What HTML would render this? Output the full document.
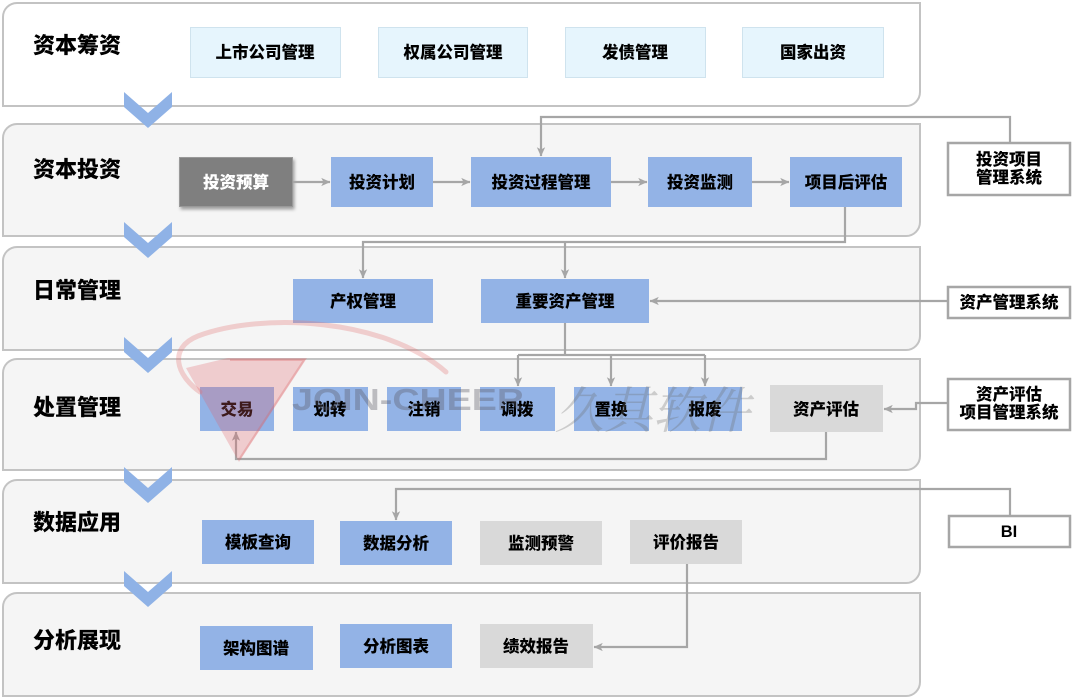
<!DOCTYPE html>
<html><head><meta charset="utf-8"><style>
html,body{margin:0;padding:0;background:#fff;}
svg{display:block;}
text{font-family:"Liberation Sans","Noto Sans CJK SC",sans-serif;font-weight:900;}
</style></head><body>
<svg width="1080" height="699" viewBox="0 0 1080 699" xmlns="http://www.w3.org/2000/svg">
<defs>
<marker id="ah" viewBox="0 0 10 10" refX="9.5" refY="5" markerWidth="4.2" markerHeight="4.2" orient="auto" markerUnits="strokeWidth">
<path d="M0,0.5 L10,5 L0,9.5 L2.5,5 Z" fill="#a6a6a6"/>
</marker>
<filter id="sh" x="-10%" y="-10%" width="130%" height="140%">
<feDropShadow dx="1.5" dy="2.5" stdDeviation="1.5" flood-color="#000" flood-opacity="0.35"/>
</filter>
</defs>

<!-- panels -->
<g stroke="#c3c3c3" stroke-width="2">
<path d="M17,3 H920 V92 A14,14 0 0 1 906,106 H3 V17 A14,14 0 0 1 17,3 Z" fill="#ffffff"/>
<path d="M17,124 H920 V222 A14,14 0 0 1 906,236 H3 V138 A14,14 0 0 1 17,124 Z" fill="#f5f5f5"/>
<path d="M17,247 H920 V336 A14,14 0 0 1 906,350 H3 V261 A14,14 0 0 1 17,247 Z" fill="#f5f5f5"/>
<path d="M17,359 H920 V456 A14,14 0 0 1 906,470 H3 V373 A14,14 0 0 1 17,359 Z" fill="#f5f5f5"/>
<path d="M17,480 H920 V569 A14,14 0 0 1 906,583 H3 V494 A14,14 0 0 1 17,480 Z" fill="#f5f5f5"/>
<path d="M17,593 H920 V682 A14,14 0 0 1 906,696 H3 V607 A14,14 0 0 1 17,593 Z" fill="#f5f5f5"/>
</g>

<!-- chevrons -->
<g fill="#8fb2e6">
<polygon points="124,92 148,113 172,92 172,107 148,128 124,107"/>
<polygon points="124,222 148,243 172,222 172,237 148,258 124,237"/>
<polygon points="124,337 148,358 172,337 172,352 148,373 124,352"/>
<polygon points="124,467 148,488 172,467 172,482 148,503 124,482"/>
<polygon points="124,571 148,592 172,571 172,586 148,607 124,586"/>
</g>

<!-- row labels -->
<g font-size="22" fill="#000">
<text x="33" y="53">资本筹资</text>
<text x="33" y="177">资本投资</text>
<text x="33" y="298">日常管理</text>
<text x="33" y="415">处置管理</text>
<text x="33" y="530">数据应用</text>
<text x="33" y="648">分析展现</text>
</g>

<!-- row 1 boxes -->
<g fill="#e6f5fd" stroke="#cfe3ee" stroke-width="1">
<rect x="190.5" y="27.5" width="150" height="50"/>
<rect x="378.5" y="27.5" width="149" height="50"/>
<rect x="565.5" y="27.5" width="140" height="50"/>
<rect x="742.5" y="27.5" width="141" height="50"/>
</g>

<!-- blue boxes -->
<g fill="#93b3e6">
<rect x="331" y="157" width="102" height="50"/>
<rect x="471" y="157" width="140" height="50"/>
<rect x="648" y="157" width="104" height="50"/>
<rect x="790" y="157" width="112" height="50"/>
<rect x="293" y="279" width="140" height="44"/>
<rect x="481" y="279" width="168" height="44"/>
<rect x="200" y="387" width="74" height="44"/>
<rect x="293" y="387" width="75" height="44"/>
<rect x="387" y="387" width="74" height="44"/>
<rect x="480" y="387" width="75" height="44"/>
<rect x="574" y="387" width="75" height="44"/>
<rect x="668" y="387" width="74" height="44"/>
<rect x="202" y="520" width="112" height="44"/>
<rect x="340" y="521" width="112" height="44"/>
<rect x="200" y="626" width="113" height="44"/>
<rect x="340" y="624" width="112" height="44"/>
</g>
<!-- gray boxes -->
<g fill="#d9d9d9">
<rect x="770" y="385" width="113" height="47"/>
<rect x="480" y="521" width="122" height="44"/>
<rect x="630" y="520" width="112" height="44"/>
<rect x="480" y="624" width="113" height="44"/>
</g>
<rect x="179.5" y="157.5" width="113" height="49" fill="#7f7f7f" stroke="#999" stroke-width="1" filter="url(#sh)"/>

<!-- external boxes -->
<g fill="#fff" stroke="#a6a6a6" stroke-width="2.5">
<rect x="948" y="143" width="122" height="52"/>
<rect x="948" y="287" width="122" height="31"/>
<rect x="948" y="379" width="122" height="51"/>
<rect x="949" y="516" width="121" height="31"/>
</g>

<!-- connectors -->
<g fill="none" stroke="#a6a6a6" stroke-width="2.2">
<path d="M293,182 H330" marker-end="url(#ah)"/>
<path d="M433,182 H470" marker-end="url(#ah)"/>
<path d="M611,182 H647" marker-end="url(#ah)"/>
<path d="M752,182 H789" marker-end="url(#ah)"/>
<path d="M1010,143 V117 H541 V156" marker-end="url(#ah)"/>
<path d="M845,207 V242 H363 V278" marker-end="url(#ah)"/>
<path d="M565,242 V278" marker-end="url(#ah)"/>
<path d="M948,301 H650" marker-end="url(#ah)"/>
<path d="M565,323 V355"/>
<path d="M518,355 H705"/>
<path d="M518,355 V386" marker-end="url(#ah)"/>
<path d="M611,355 V386" marker-end="url(#ah)"/>
<path d="M705,355 V386" marker-end="url(#ah)"/>
<path d="M948,403 H916 V409 H884" marker-end="url(#ah)"/>
<path d="M826,432 V459 H236 V432" marker-end="url(#ah)"/>
<path d="M1010,516 V489 H396 V520" marker-end="url(#ah)"/>
<path d="M687,564 V647 H594" marker-end="url(#ah)"/>
</g>

<!-- box text -->
<g font-size="16.5" fill="#000" text-anchor="middle">
<text x="265" y="58">上市公司管理</text>
<text x="453" y="58">权属公司管理</text>
<text x="635" y="58">发债管理</text>
<text x="813" y="58">国家出资</text>
<text x="236" y="188" fill="#fff">投资预算</text>
<text x="382" y="188">投资计划</text>
<text x="541" y="188">投资过程管理</text>
<text x="700" y="188">投资监测</text>
<text x="846" y="188">项目后评估</text>
<text x="363" y="307">产权管理</text>
<text x="565" y="307">重要资产管理</text>
<text x="237" y="415">交易</text>
<text x="330" y="415">划转</text>
<text x="424" y="415">注销</text>
<text x="517" y="415">调拨</text>
<text x="611" y="415">置换</text>
<text x="705" y="415">报废</text>
<text x="826" y="415">资产评估</text>
<text x="258" y="548">模板查询</text>
<text x="396" y="549">数据分析</text>
<text x="541" y="549">监测预警</text>
<text x="686" y="548">评价报告</text>
<text x="256" y="654">架构图谱</text>
<text x="396" y="652">分析图表</text>
<text x="536" y="652">绩效报告</text>
<text x="1009" y="165">投资项目</text>
<text x="1009" y="183">管理系统</text>
<text x="1009" y="308">资产管理系统</text>
<text x="1009" y="400">资产评估</text>
<text x="1009" y="418">项目管理系统</text>
<text x="1009" y="537">BI</text>
</g>

<!-- watermark -->
<g>
<path d="M200,392 C176,375 168,348 198,336 C262,312 385,318 446,372" fill="none" stroke="rgba(228,120,120,0.32)" stroke-width="5" stroke-linecap="round"/>
<polygon points="186,368 228,358 307,358 239,462" fill="rgba(225,95,105,0.27)"/>
<path d="M230,360 L304,360 L240,458" fill="none" stroke="rgba(220,100,100,0.3)" stroke-width="2"/>
<text x="292" y="410" font-size="31" fill="rgba(90,90,100,0.36)" textLength="232" lengthAdjust="spacingAndGlyphs" style="font-family:'Liberation Sans',sans-serif;font-weight:bold">JOIN-CHEER</text>
<text x="555" y="428" font-size="50" fill="rgba(110,110,110,0.3)" textLength="195" lengthAdjust="spacingAndGlyphs" style="font-family:'Noto Serif CJK SC',serif;font-weight:normal;font-style:italic">久其软件</text>
</g>
</svg>
</body></html>
